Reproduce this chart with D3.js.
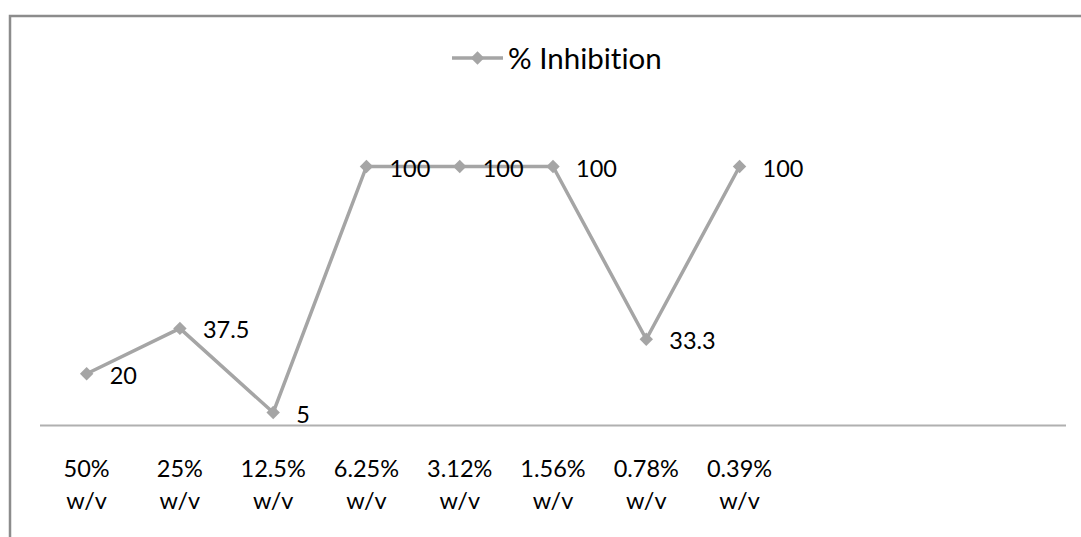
<!DOCTYPE html>
<html>
<head>
<meta charset="utf-8">
<script src="https://cdn.jsdelivr.net/npm/d3@7"></script>
<style>
    body { margin: 0; background: #fff; }
    svg { display: block; font-family: Lato, "Open Sans", sans-serif; font-variant-ligatures: none; }
</style>
</head>
<body>
<div id="chart"></div>
<script>
// Concentrations (x axis, two lines each) and % inhibition values
const concentrations = ["50%", "25%", "12.5%", "6.25%", "3.12%", "1.56%", "0.78%", "0.39%"];
const units = ["w/v", "w/v", "w/v", "w/v", "w/v", "w/v", "w/v", "w/v"];
const inhibition = [20, 37.5, 5, 100, 100, 100, 33.3, 100];
const seriesName = "% Inhibition";

const width = 1081, height = 537;
const slots = 11; // category range includes three empty slots on the right
const lineColor = "#a5a5a5";

const svg = d3.select("#chart").append("svg")
    .attr("width", width)
    .attr("height", height);

// chart frame (cropped on right and bottom)
svg.append("rect")
    .attr("x", 10)
    .attr("y", 16)
    .attr("width", 1100)
    .attr("height", 600)
    .attr("fill", "none")
    .attr("stroke", "#8c8c8c")
    .attr("stroke-width", 2.5);

const x = d3.scaleBand()
    .domain(d3.range(slots))
    .range([40, 1066]);

const y = d3.scaleLinear()
    .domain([0, 120])
    .range([425.5, 114.7]);

const data = inhibition.map((v, i) => ({ i: i, value: v }));
const cx = d => x(d.i) + x.bandwidth() / 2;

// category axis line
svg.append("line")
    .attr("x1", x.range()[0])
    .attr("x2", x.range()[1])
    .attr("y1", y(0))
    .attr("y2", y(0))
    .attr("stroke", "#b0b0b0")
    .attr("stroke-width", 2);

// category labels
const labels = svg.append("g")
    .selectAll("text")
    .data(concentrations)
    .enter().append("text")
    .attr("x", (d, i) => x(i) + x.bandwidth() / 2)
    .attr("y", 477)
    .attr("text-anchor", "middle")
    .attr("font-size", 23.5)
    .attr("fill", "#000");

labels.append("tspan").text(d => d);
labels.append("tspan")
    .attr("x", (d, i) => x(i) + x.bandwidth() / 2)
    .attr("dy", 32)
    .text((d, i) => units[i]);

// series line
const line = d3.line()
    .x(cx)
    .y(d => y(d.value));

svg.append("path")
    .datum(data)
    .attr("d", line)
    .attr("fill", "none")
    .attr("stroke", lineColor)
    .attr("stroke-width", 3.5)
    .attr("stroke-linejoin", "round");

const diamond = d3.symbol().type(d3.symbolDiamond2).size(115);

svg.append("g")
    .selectAll("path")
    .data(data)
    .enter().append("path")
    .attr("d", diamond)
    .attr("transform", d => "translate(" + cx(d) + "," + y(d.value) + ")")
    .attr("fill", lineColor);

// data labels, right of each point
svg.append("g")
    .selectAll("text")
    .data(data)
    .enter().append("text")
    .attr("x", d => cx(d) + 23)
    .attr("y", d => y(d.value) + 10)
    .attr("font-size", 23.5)
    .attr("fill", "#000")
    .text(d => d.value);

// legend
const legend = svg.append("g").attr("transform", "translate(452,58)");
legend.append("line")
    .attr("x1", 0).attr("x2", 51)
    .attr("stroke", lineColor)
    .attr("stroke-width", 3.5);
legend.append("path")
    .attr("d", diamond)
    .attr("transform", "translate(25.5,0)")
    .attr("fill", lineColor);
legend.append("text")
    .attr("x", 56)
    .attr("y", 10.5)
    .attr("font-size", 29.5)
    .attr("fill", "#000")
    .text(seriesName);
</script>
</body>
</html>
